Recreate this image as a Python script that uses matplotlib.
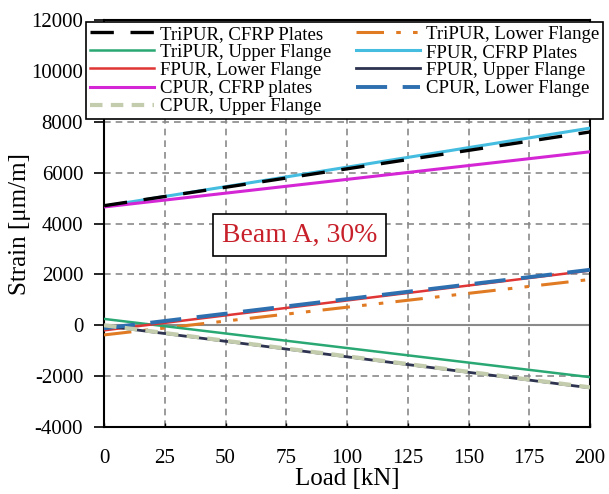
import matplotlib
matplotlib.use('Agg')
import matplotlib.pyplot as plt
import numpy as np

plt.rcParams['font.family'] = ['Liberation Serif', 'DejaVu Serif']
plt.rcParams['axes.unicode_minus'] = False

# Strain vs. load, each series sampled at the end points of the load range
load = [0, 200]
tripur_cfrp = [4700, 7600]
tripur_lower = [-380, 1800]
tripur_upper = [250, -2040]
fpur_cfrp = [4680, 7750]
fpur_lower = [-200, 2150]
fpur_upper = [-20, -2460]
cpur_cfrp = [4650, 6820]
cpur_lower = [-120, 2180]
cpur_upper = [0, -2440]

fig = plt.figure(figsize=(6.09, 4.94), dpi=100)
ax = fig.add_axes([0.1708, 0.1356, 0.798, 0.8239])

ax.grid(True, color='#8a8a8a', linestyle=(0, (4, 3)), linewidth=1.2)
ax.axhline(0, color='#8a8a8a', linewidth=1.5, zorder=1)

h = {}
h['TriPUR, CFRP Plates'], = ax.plot(load, tripur_cfrp, color='black', lw=2.4,
                                    linestyle=(0, (7, 5)), zorder=4)
h['TriPUR, Lower Flange'], = ax.plot(load, tripur_lower, color='#e07b24', lw=2.2,
                                     linestyle=(0, (9, 4, 1.5, 4, 1.5, 4)), zorder=3)
h['TriPUR, Upper Flange'], = ax.plot(load, tripur_upper, color='#2aa874', lw=1.8, zorder=3)
h['FPUR, CFRP Plates'], = ax.plot(load, fpur_cfrp, color='#45bde0', lw=2.2, zorder=3)
h['FPUR, Lower Flange'], = ax.plot(load, fpur_lower, color='#e03535', lw=1.8, zorder=3)
h['FPUR, Upper Flange'], = ax.plot(load, fpur_upper, color='#2e3350', lw=2, zorder=3)
h['CPUR, CFRP plates'], = ax.plot(load, cpur_cfrp, color='#d526d5', lw=2.2, zorder=3)
h['CPUR, Lower Flange'], = ax.plot(load, cpur_lower, color='#2e6fb0', lw=2.8,
                                   linestyle=(0, (8, 4)), zorder=4)
h['CPUR, Upper Flange'], = ax.plot(load, cpur_upper, color='#c4ccae', lw=3,
                                   linestyle=(0, (3, 2)), zorder=4)

order = ['TriPUR, CFRP Plates', 'TriPUR, Upper Flange', 'FPUR, Lower Flange',
         'CPUR, CFRP plates', 'CPUR, Upper Flange',
         'TriPUR, Lower Flange', 'FPUR, CFRP Plates', 'FPUR, Upper Flange',
         'CPUR, Lower Flange']
leg = ax.legend([h[k] for k in order], order, ncol=2, loc='upper left',
                bbox_to_anchor=(-0.037, 0.752, 1.064, 0.243), mode='expand',
                borderaxespad=0, fontsize=13.5, handlelength=3.4, handletextpad=0.35,
                labelspacing=0.05, borderpad=0.2, columnspacing=0.8,
                fancybox=False, framealpha=1, edgecolor='black')
leg.get_frame().set_linewidth(1.2)
leg.set_zorder(10)

ax.text(80.5, 3550, 'Beam A, 30%', color='#c8202a', fontsize=20,
        ha='center', va='center', zorder=6,
        bbox=dict(boxstyle='square,pad=0.32', facecolor='white',
                  edgecolor='black', linewidth=1.2))

ax.set_xlim(0, 200)
ax.set_ylim(-4000, 12000)
ax.set_xticks(np.arange(0, 201, 25))
ax.set_yticks(np.arange(-4000, 12001, 2000))
ax.tick_params(axis='y', direction='out', length=7, width=1.2, labelsize=15, pad=8)
ax.tick_params(axis='x', direction='in', length=3, width=1, labelsize=15, pad=16)
for s in ax.spines.values():
    s.set_linewidth(1.5)
ax.set_xlabel('Load [kN]', fontsize=18, labelpad=0)
ax.set_ylabel('Strain [μm/m]', fontsize=18, labelpad=0)

fig.savefig('out.png', dpi=100)
